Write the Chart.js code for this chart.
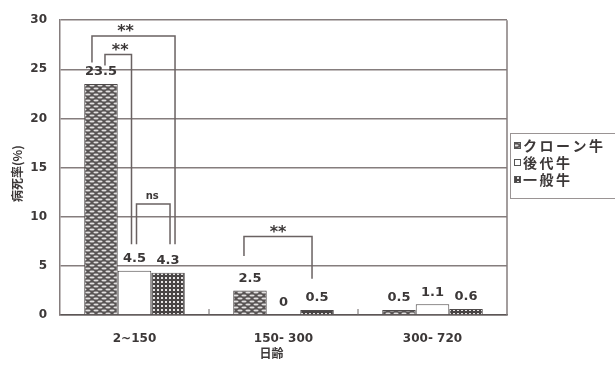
<!DOCTYPE html>
<html>
<head>
<meta charset="utf-8">
<script src="https://cdn.jsdelivr.net/npm/chart.js@4.4.1/dist/chart.umd.min.js"></script>
<style>
  html, body { margin: 0; padding: 0; background: #fff; }
  #c { display: block; }
</style>
</head>
<body>
<canvas id="c" width="615" height="369"></canvas>
<script>
// Age groups (days) and mortality per group
const categories = ['2~150', '150- 300', '300- 720'];
const seriesNames = ['クローン牛', '後代牛', '一般牛'];
const cloneValues = [23.5, 2.5, 0.5];
const progenyValues = [4.5, 0, 1.1];
const generalValues = [4.3, 0.5, 0.6];
const yTicks = [0, 5, 10, 15, 20, 25, 30];
const yTitle = '病死率(%)';
const xTitle = '日齢';

// Significance markers: group index, the two compared series, bracket height
// and leg ends (in % units), plus the marker text
const sigMarks = [
  { cat: 0, a: 0, b: 2, top: 28.4, legA: 25.7, legB: 7.2, text: '**', dxA: -9, dxB: 7, tx: -8 },
  { cat: 0, a: 0, b: 1, top: 26.5, legA: 25.4, legB: 7.2, text: '**', dxA: 4, dxB: -3, tx: 2 },
  { cat: 0, a: 1, b: 2, top: 11.3, legA: 7.2, legB: 7.2, text: 'ns', dxA: 2, dxB: 2, tx: -1 },
  { cat: 1, a: 0, b: 2, top: 8.0, legA: 6.0, legB: 3.7, text: '**', dxA: -6, dxB: -5, tx: 0 }
];

const INK = '#3c3838';
const LINE = '#857d7d';
const FONT = '"DejaVu Sans", "Noto Sans CJK JP", sans-serif';
const JFONT = '"Noto Sans CJK JP", "DejaVu Sans", sans-serif';

function makePattern(w, h, paint) {
  const c = document.createElement('canvas');
  c.width = w; c.height = h;
  const g = c.getContext('2d');
  paint(g, w, h);
  return document.getElementById('c').getContext('2d').createPattern(c, 'repeat');
}

// scale-like weave for clone cattle
const clonePattern = makePattern(8, 6, (g, w, h) => {
  g.fillStyle = '#585454'; g.fillRect(0, 0, w, h);
  g.fillStyle = '#e2e0e0';
  g.beginPath(); g.ellipse(4, 1.5, 2.6, 1.0, 0, 0, Math.PI * 2); g.fill();
  g.beginPath(); g.ellipse(0, 4.5, 2.6, 1.0, 0, 0, Math.PI * 2); g.fill();
  g.beginPath(); g.ellipse(8, 4.5, 2.6, 1.0, 0, 0, Math.PI * 2); g.fill();
});
// small checked grid for ordinary cattle
const generalPattern = makePattern(4, 4, (g, w, h) => {
  g.fillStyle = '#484444'; g.fillRect(0, 0, w, h);
  g.fillStyle = '#e6e4e4'; g.fillRect(1, 1, 2, 2);
});
const fills = [clonePattern, '#ffffff', generalPattern];

const overlay = {
  id: 'overlay',
  afterDatasetsDraw(chart) {
    const { ctx, chartArea: a, scales: { x, y } } = chart;
    ctx.save();
    // frame on the right side of the plot
    ctx.strokeStyle = LINE; ctx.lineWidth = 1.5;
    ctx.beginPath(); ctx.moveTo(a.right, a.top); ctx.lineTo(a.right, a.bottom); ctx.stroke();

    // short inward ticks between the age groups
    ctx.strokeStyle = '#6a6464'; ctx.lineWidth = 1;
    for (let i = 0; i < categories.length - 1; i++) {
      const bx = (x.getPixelForValue(i) + x.getPixelForValue(i + 1)) / 2;
      ctx.beginPath(); ctx.moveTo(bx, a.bottom); ctx.lineTo(bx, a.bottom - 6); ctx.stroke();
    }

    // value labels above bars
    ctx.fillStyle = INK;
    ctx.font = 'bold 13px ' + FONT;
    ctx.textAlign = 'center'; ctx.textBaseline = 'middle';
    chart.data.datasets.forEach((ds, i) => {
      chart.getDatasetMeta(i).data.forEach((bar, j) => {
        ctx.fillText(String(ds.data[j]), bar.x, y.getPixelForValue(ds.data[j]) - 12);
      });
    });

    // significance brackets
    ctx.strokeStyle = '#6a6262'; ctx.lineWidth = 1.5;
    sigMarks.forEach(m => {
      const xa = chart.getDatasetMeta(m.a).data[m.cat].x + m.dxA;
      const xb = chart.getDatasetMeta(m.b).data[m.cat].x + m.dxB;
      const yt = y.getPixelForValue(m.top);
      ctx.beginPath();
      ctx.moveTo(xa, y.getPixelForValue(m.legA));
      ctx.lineTo(xa, yt); ctx.lineTo(xb, yt);
      ctx.lineTo(xb, y.getPixelForValue(m.legB));
      ctx.stroke();
      if (m.text === '**') {
        ctx.font = 'bold 16px ' + FONT;
        ctx.fillText(m.text, (xa + xb) / 2 + m.tx, yt - 4);
      } else {
        ctx.font = 'bold 10px ' + FONT;
        ctx.fillText(m.text, (xa + xb) / 2 + m.tx, yt - 8);
      }
    });

    // axis titles
    ctx.font = 'bold 12px ' + JFONT;
    ctx.fillText(xTitle, (a.left + a.right) / 2 - 12, 353);
    ctx.save();
    ctx.translate(17, (a.top + a.bottom) / 2 + 6);
    ctx.rotate(-Math.PI / 2);
    ctx.fillText(yTitle, 0, 0);
    ctx.restore();

    // legend
    const lx = 510, ly = 133, lw = 106, lh = 65;
    ctx.strokeStyle = '#9a9494'; ctx.lineWidth = 1;
    ctx.strokeRect(lx + 0.5, ly + 0.5, lw, lh);
    ctx.textAlign = 'left';
    ctx.font = 'bold 14px ' + JFONT;
    try { ctx.letterSpacing = '2.5px'; } catch (e) {}
    seriesNames.forEach((name, i) => {
      const ey = 146 + i * 17;
      ctx.fillStyle = fills[i];
      ctx.fillRect(514, ey - 4, 7, 7);
      ctx.strokeStyle = '#555'; ctx.strokeRect(514.5, ey - 3.5, 6, 6);
      ctx.fillStyle = INK;
      ctx.fillText(name, 523, ey);
    });
    ctx.restore();
  }
};

new Chart(document.getElementById('c'), {
  type: 'bar',
  data: {
    labels: categories,
    datasets: [cloneValues, progenyValues, generalValues].map((vals, i) => ({
      label: seriesNames[i],
      data: vals,
      backgroundColor: fills[i],
      borderColor: '#4e4a4a',
      borderWidth: 1,
      barPercentage: 1,
      categoryPercentage: 0.675
    }))
  },
  options: {
    responsive: false,
    animation: false,
    events: [],
    layout: { padding: { top: 17, right: 108, left: 0, bottom: 0 } },
    plugins: { legend: { display: false }, tooltip: { enabled: false } },
    scales: {
      x: {
        grid: { display: false },
        border: { display: true, color: '#5c5656', width: 1.5 },
        ticks: { color: INK, font: { family: FONT, size: 12, weight: 'bold' }, padding: 9 },
        afterFit: s => { s.height = 54; }
      },
      y: {
        min: 0, max: 30,
        afterBuildTicks: s => { s.ticks = yTicks.map(v => ({ value: v })); },
        grid: { color: LINE, lineWidth: 1.5, drawTicks: false },
        border: { display: true, color: LINE, width: 1.5 },
        ticks: { color: INK, font: { family: FONT, size: 12, weight: 'bold' }, padding: 13 },
        afterFit: s => { s.width = 60; }
      }
    }
  },
  plugins: [overlay]
});
</script>
</body>
</html>
